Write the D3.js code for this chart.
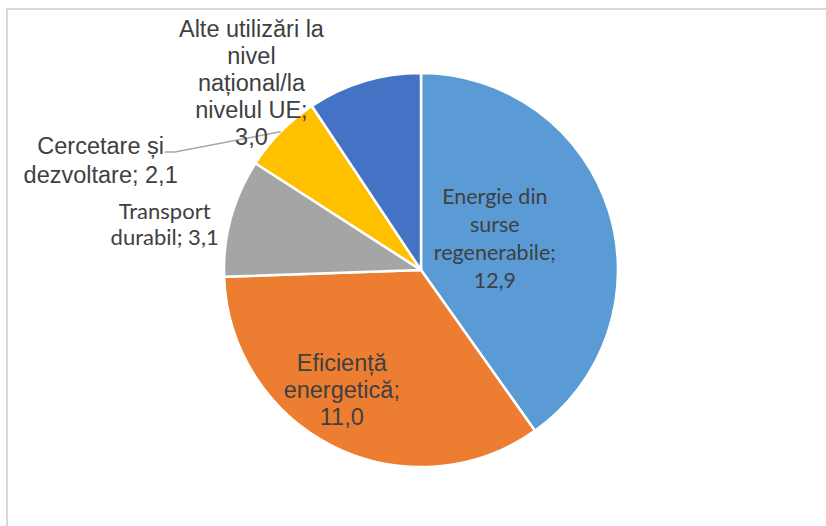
<!DOCTYPE html>
<html>
<head>
  <meta charset="utf-8">
  <title>Pie</title>
  <style>
    body { margin: 0; background: #fff; }
    .lbl { fill: #404040; text-anchor: middle; }
  </style>
</head>
<body>
  <svg width="826" height="526"></svg>
  <script src="https://d3js.org/d3.v7.min.js"></script>
  <script>
    // data
    const categories = [
      "Energie din surse regenerabile",
      "Eficiență energetică",
      "Transport durabil",
      "Cercetare și dezvoltare",
      "Alte utilizări la nivel național/la nivelul UE"
    ];
    const values = [12.9, 11.0, 3.1, 2.1, 3.0];
    const colors = ["#5B9BD5", "#ED7D31", "#A5A5A5", "#FFC000", "#4472C4"];

    // how each label wraps, {v} = value
    const labelLines = [
      ["Energie din", "surse", "regenerabile;", "{v}"],
      ["Eficiență", "energetică;", "{v}"],
      ["Transport", "durabil; {v}"],
      ["Cercetare și", "dezvoltare; {v}"],
      ["Alte utilizări la", "nivel", "național/la", "nivelul UE;", "{v}"]
    ];

    const svg = d3.select("svg");
    const cx = 421, cy = 270, r = 197;

    // chart area border
    svg.append("rect")
      .attr("x", 7).attr("y", 9)
      .attr("width", 900).attr("height", 600)
      .attr("fill", "none")
      .attr("stroke", "#d9d9d9")
      .attr("stroke-width", 2);

    const pie = d3.pie().sort(null).value(d => d);
    const arcs = pie(values);
    const arc = d3.arc().innerRadius(0).outerRadius(r);

    const g = svg.append("g").attr("transform", `translate(${cx},${cy})`);

    g.selectAll("path")
      .data(arcs)
      .enter().append("path")
      .attr("d", arc)
      .attr("fill", (d, i) => colors[i])
      .attr("stroke", "#fff")
      .attr("stroke-width", 2.5)
      .attr("stroke-linejoin", "round");

    // label placement: radius factor, nudge, font
    const labelOpts = [
      {k: 0.5,  dx: -20, dy: -2,  font: "Lato",            size: 21.5, lh: 28},
      {k: 0.7,  dx: -18, dy: -4,  font: "Liberation Sans", size: 23.5, lh: 27},
      {k: 1.15, dx: -38, dy: 15,  font: "Lato",            size: 22,   lh: 26},
      {k: 1.15, dx: -159, dy: 49, font: "Liberation Sans", size: 23.5, lh: 29},
      {k: 1.15, dx: -104, dy: 30, font: "Liberation Sans", size: 23.5, lh: 27}
    ];

    const fmt = v => d3.format(".1f")(v).replace(".", ",");

    arcs.forEach((a, i) => {
      const o = labelOpts[i];
      const c = d3.arc().innerRadius(r * o.k).outerRadius(r * o.k).centroid(a);
      const x = c[0] + o.dx, y = c[1] + o.dy;
      const lines = labelLines[i].map(s => s.replace("{v}", fmt(values[i])));
      const y0 = y - (lines.length - 1) / 2 * o.lh + 0.35 * o.size;

      if (i === 3) {
        // leader line from slice edge to label
        const edge = d3.arc().innerRadius(r).outerRadius(r).centroid(a);
        g.append("polyline")
          .attr("points", [edge, [x + 74, y - 8], [x + 64, y - 8]].map(p => p.join(",")).join(" "))
          .attr("fill", "none")
          .attr("stroke", "#a6a6a6")
          .attr("stroke-width", 1.5);
      }

      const t = g.append("text")
        .attr("class", "lbl")
        .style("font-family", o.font)
        .style("font-size", o.size + "px");
      lines.forEach((s, j) => {
        t.append("tspan").attr("x", x).attr("y", y0 + j * o.lh).text(s);
      });
    });
  </script>
</body>
</html>
